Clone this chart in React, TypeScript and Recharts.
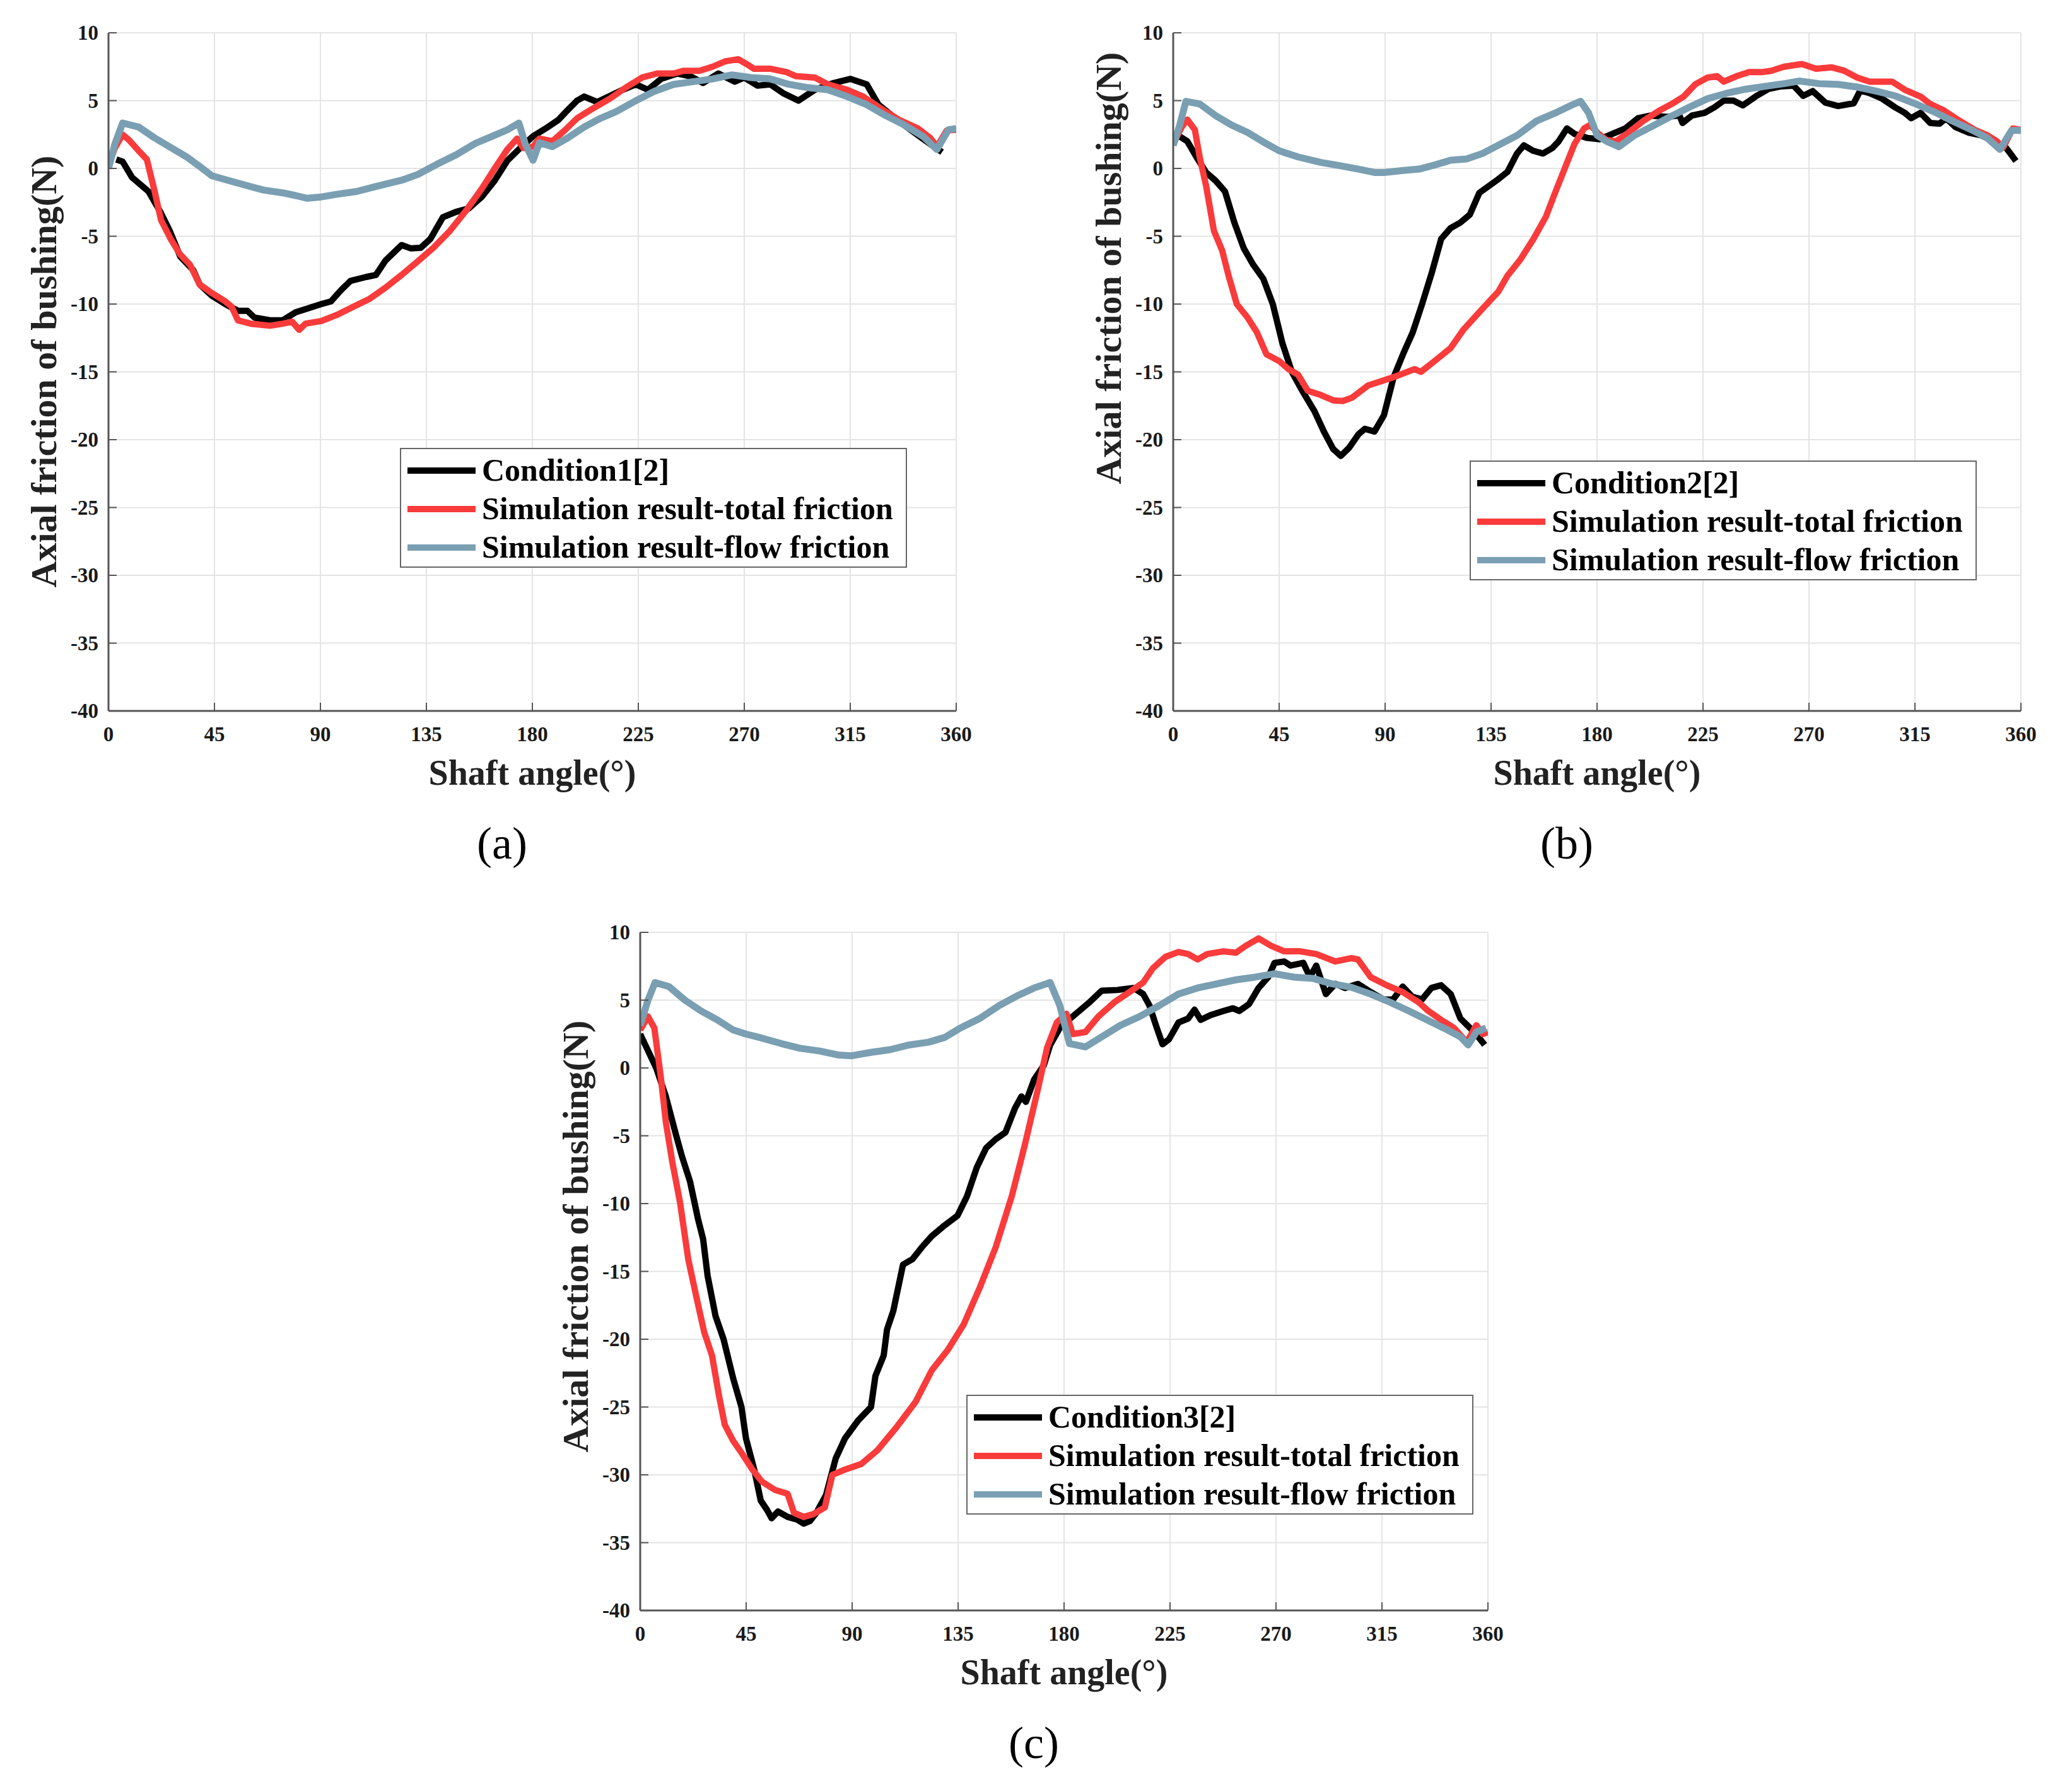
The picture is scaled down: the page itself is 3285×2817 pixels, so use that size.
import React from 'react';
import { LineChart, Line, XAxis, YAxis, CartesianGrid, Legend } from 'recharts';

// axis ticks shared by the three panels
const ANGLE_TICKS = [0, 45, 90, 135, 180, 225, 270, 315, 360];
const FORCE_TICKS = [-40, -35, -30, -25, -20, -15, -10, -5, 0, 5, 10];

// series names
const NAMES_A = ['Condition1[2]', 'Simulation result-total friction', 'Simulation result-flow friction'];
const NAMES_B = ['Condition2[2]', 'Simulation result-total friction', 'Simulation result-flow friction'];
const NAMES_C = ['Condition3[2]', 'Simulation result-total friction', 'Simulation result-flow friction'];

// (a) [shaft angle, axial friction]
const cond1 = [
  [3.3, 0.66], [6, 0.5], [10, -0.66], [17, -1.7], [22, -3.2], [26, -4.6], [30.5, -6.5], [36, -7.5],
  [38.7, -8.55], [44, -9.4], [49.6, -10], [55, -10.5], [59, -10.5], [62, -11], [68.6, -11.2], [74, -11.2],
  [79.5, -10.6], [85, -10.3], [90.4, -10], [94.5, -9.8], [98.6, -9], [102.7, -8.3], [109.5, -8],
  [113.6, -7.85], [117.6, -6.8], [124.5, -5.65], [128.5, -5.9], [132.6, -5.85], [136.7, -5.2], [142, -3.6],
  [147.6, -3.2], [153, -2.95], [158.5, -2.1], [164, -0.9], [169.4, 0.58], [174.8, 1.5], [180.3, 2.37],
  [185.7, 2.95], [191, 3.57], [195, 4.3], [199, 5], [202, 5.3], [207.5, 4.9], [213, 5.35], [218.4, 5.8],
  [224, 6.2], [229, 5.8], [234.7, 6.6], [241.6, 7], [247, 6.8], [252.5, 6.3], [259, 7], [266, 6.4],
  [270, 6.7], [275.6, 6.1], [281, 6.2], [286.5, 5.55], [293, 5], [300, 5.8], [308, 6.3], [315, 6.6],
  [322, 6.2], [327, 4.7], [335.5, 3.5], [343.7, 2.45], [349, 1.8], [354, 1.2],
];
const total1 = [
  [0, 0.2], [2.7, 1.5], [6, 2.5], [8.7, 2.1], [12.8, 1.3], [16.3, 0.66], [19.6, -1.7], [22.3, -3.8],
  [26.4, -5.2], [30.5, -6.35], [34.6, -7.1], [38.7, -8.55], [44, -9.2], [49.6, -9.8], [52.3, -10.2],
  [55, -11.2], [60.5, -11.45], [68.6, -11.6], [74, -11.45], [78, -11.3], [81, -11.9], [83.6, -11.45],
  [90.4, -11.25], [97, -10.8], [104, -10.2], [111, -9.6], [117.6, -8.8], [124.5, -7.85], [131, -6.9],
  [138, -5.85], [145, -4.6], [151.7, -3.15], [158.5, -1.5], [164, 0], [169.4, 1.4], [173.5, 2.2],
  [176.2, 1.5], [180.3, 1.6], [183, 2.2], [188.5, 2], [194, 2.85], [199, 3.7], [206, 4.45], [213, 5.15],
  [220, 6], [226.6, 6.7], [233, 7], [240, 7], [244.3, 7.2], [251, 7.2], [256.5, 7.5], [262, 7.9],
  [267.4, 8.05], [271.5, 7.65], [274, 7.35], [281, 7.35], [288, 7.1], [292, 6.8], [300, 6.7],
  [305.5, 6.2], [313.7, 5.8], [320.5, 5.3], [327.3, 4.5], [335.5, 3.6], [343.7, 2.95], [349, 2.25],
  [351.8, 1.6], [356, 2.8], [360, 2.85],
];
const flow1 = [
  [0, 0], [2.7, 1.8], [6, 3.35], [12.8, 3.05], [19.6, 2.25], [26.4, 1.55], [33.2, 0.85], [38.7, 0.15],
  [44, -0.55], [52.3, -0.95], [60.5, -1.35], [66, -1.6], [74, -1.8], [79.5, -2], [84.4, -2.2],
  [90.4, -2.1], [97.2, -1.9], [105.4, -1.7], [112, -1.4], [119, -1.1], [124.5, -0.87], [131.3, -0.45],
  [139.4, 0.3], [147.6, 1], [155.8, 1.85], [164, 2.45], [169.4, 2.85], [174.3, 3.35], [177, 1.8],
  [180.3, 0.6], [183, 1.9], [188.5, 1.6], [195, 2.25], [202, 3.05], [209, 3.7], [215.7, 4.2], [224, 5],
  [232, 5.7], [240, 6.2], [248.4, 6.4], [256.5, 6.6], [264.7, 6.9], [272.9, 6.7], [281, 6.6], [289, 6.2],
  [297.3, 5.95], [305.5, 5.8], [313.7, 5.3], [322, 4.7], [330, 3.9], [338, 3.2], [346, 2.35],
  [351.8, 1.4], [356.7, 2.85], [360, 2.95],
];

// (b)
const cond2 = [
  [2, 2.45], [6, 2], [10, 0.8], [14, -0.3], [18, -0.9], [22, -1.7], [26, -4], [30, -5.9], [34, -7.1],
  [38.3, -8.15], [42.3, -10], [46.4, -12.9], [50.4, -15], [54.5, -16.3], [60, -17.9], [64, -19.4],
  [68, -20.7], [71.2, -21.2], [74.7, -20.6], [78.7, -19.6], [81.4, -19.2], [85.5, -19.4], [89.5, -18.2],
  [93.6, -15.4], [97.6, -13.7], [101.7, -12.1], [105.7, -10], [109.8, -7.7], [113.8, -5.2], [117.8, -4.4],
  [121.9, -4], [126, -3.4], [130, -1.8], [134, -1.3], [138, -0.8], [142, -0.25], [146, 1.1], [148.9, 1.7],
  [152.9, 1.3], [157, 1.1], [161, 1.5], [163.7, 2], [167.2, 2.95], [170.4, 2.55], [175.8, 2.25],
  [181.2, 2.15], [186.6, 2.55], [192, 2.95], [197.4, 3.7], [202.8, 3.9], [209.5, 3.8], [215, 3.9],
  [216.3, 3.35], [220.3, 3.9], [225.7, 4.1], [229.8, 4.5], [233.8, 5], [237.9, 5], [241.9, 4.65],
  [247.3, 5.3], [252.7, 5.85], [258, 6.05], [263.5, 6.1], [267.5, 5.35], [271.6, 5.7], [277, 4.85],
  [282.4, 4.6], [289, 4.8], [291.8, 5.75], [295.8, 5.55], [301, 5.15], [306.6, 4.5], [310.7, 4.1],
  [313.4, 3.7], [317.4, 4.1], [321.5, 3.35], [325.5, 3.3], [328.2, 3.7], [332.2, 3.05], [337.6, 2.65],
  [343, 2.45], [348.4, 2], [353.8, 1.5], [357.9, 0.55],
];
const total2 = [
  [0, 1.8], [3.8, 3.1], [6, 3.6], [9.2, 2.85], [11.3, 0.8], [14, -1.3], [17.3, -4.6], [20.8, -6.05],
  [23.5, -7.9], [27, -10], [31.6, -11], [35.6, -12.1], [39.6, -13.7], [45, -14.2], [49, -14.8],
  [53, -15.2], [57.2, -16.4], [62.6, -16.7], [68, -17.1], [72, -17.15], [76, -16.9], [82.8, -16],
  [88.2, -15.7], [95, -15.3], [102.5, -14.8], [105.2, -15], [111, -14.2], [117.8, -13.25], [123.2, -11.9],
  [130, -10.6], [138, -9.1], [142, -7.9], [147.5, -6.7], [153, -5.2], [158.3, -3.55], [162.4, -1.7],
  [167.2, 0.4], [170.4, 1.8], [174.5, 2.95], [177, 3.2], [180.7, 2.55], [184, 2.1], [188, 2],
  [193.4, 2.65], [200, 3.55], [206.8, 4.3], [212.2, 4.8], [216.8, 5.3], [221.7, 6.2], [227, 6.7],
  [231, 6.8], [233.8, 6.4], [239.2, 6.8], [244.6, 7.1], [250, 7.1], [254, 7.2], [259.4, 7.5], [267, 7.7],
  [273, 7.35], [279.7, 7.45], [285, 7.2], [290.5, 6.7], [295.8, 6.4], [305.3, 6.4], [310.7, 5.8],
  [317.4, 5.3], [321.5, 4.75], [327, 4.3], [333.6, 3.55], [340.4, 2.85], [345.7, 2.45], [349.8, 2],
  [352.5, 1.55], [356.6, 2.95], [360, 2.85],
];
const flow2 = [
  [0, 1.7], [2.7, 3.15], [5.4, 4.95], [11.3, 4.75], [18, 3.9], [24.8, 3.2], [31.6, 2.65], [38.3, 1.95],
  [45, 1.3], [53, 0.85], [62.6, 0.45], [70.7, 0.2], [78.7, -0.05], [85.5, -0.3], [89.5, -0.3],
  [97.6, -0.15], [104.4, -0.05], [111, 0.25], [117.8, 0.6], [124.6, 0.7], [131.3, 1.1], [138, 1.7],
  [146.2, 2.45], [154.3, 3.5], [162.4, 4.1], [169, 4.65], [173, 4.95], [176.4, 4.1], [180, 2.45],
  [184, 2], [189.3, 1.6], [196, 2.45], [202.8, 3.05], [210.9, 3.8], [219, 4.5], [227, 5.15], [235.2, 5.55],
  [243.3, 5.85], [251.3, 6.05], [259.4, 6.25], [266, 6.45], [274.3, 6.25], [282.4, 6.2], [290.5, 6],
  [298.5, 5.7], [306.6, 5.35], [314.7, 4.8], [322.8, 4.2], [330.9, 3.5], [339, 2.85], [345.7, 2.25],
  [351.1, 1.4], [356, 2.8], [360, 2.8],
];

// (c)
const cond3 = [
  [0, 2.5], [2.7, 1.5], [6.8, 0], [10.9, -2.1], [15, -4.8], [17.7, -6.5], [21.2, -8.4], [24.5, -11.1],
  [26.7, -12.6], [28.6, -15.3], [32, -18.3], [35.4, -20], [39.5, -22.9], [43, -25], [44.9, -27.3],
  [48.4, -29.6], [51.2, -31.9], [53.9, -32.6], [55.8, -33.2], [58.5, -32.7], [62.6, -33.1], [66.7, -33.3],
  [69.4, -33.6], [72.1, -33.4], [74.8, -32.8], [78.9, -31.5], [83, -28.8], [87, -27.3], [92.5, -26],
  [98, -25], [99.9, -22.7], [103.4, -21.2], [104.8, -19.3], [107.5, -17.9], [111.6, -14.5], [115.6, -14.1],
  [119.7, -13.2], [123.8, -12.4], [129.3, -11.6], [134.7, -10.9], [138.8, -9.45], [142.9, -7.35],
  [146.9, -5.9], [151, -5.25], [155.1, -4.75], [159.2, -2.95], [161.9, -2.1], [163.8, -2.5], [167.3, -0.85],
  [171.4, 0.2], [174.1, 1.7], [178.2, 2.95], [182.3, 3.6], [186.4, 4.2], [190.5, 4.8], [196, 5.7],
  [202.7, 5.75], [209.5, 5.9], [213.6, 5.45], [216.3, 4.6], [219, 3.15], [221.8, 1.75], [224.5, 2.1],
  [228.6, 3.35], [232.7, 3.65], [235.4, 4.3], [238, 3.55], [242.2, 3.9], [247.6, 4.2], [251.7, 4.4],
  [254.4, 4.2], [258.5, 4.7], [262.6, 5.9], [266.7, 6.7], [269.4, 7.75], [273.5, 7.85], [276.2, 7.55],
  [281.6, 7.75], [284.4, 6.7], [287.1, 7.55], [291.2, 5.45], [295.2, 6.2], [299.3, 5.9], [304.8, 6.2],
  [310.2, 5.6], [315.6, 5.05], [319.7, 5.05], [323.8, 6], [327.9, 5.25], [332, 5.05], [336, 5.9],
  [340.1, 6.1], [344.2, 5.45], [348.3, 3.65], [352.4, 2.95], [355.9, 2.3], [358.6, 1.7],
];
const total3 = [
  [0, 2.8], [3.3, 3.8], [6, 2.95], [8.7, -0.6], [10.9, -4], [13.6, -6.9], [16.9, -9.9], [20.4, -14.1],
  [24, -17], [27.2, -19.5], [30.5, -21.2], [33.5, -24.2], [35.9, -26.3], [39.5, -27.5], [43.5, -28.5],
  [47.6, -29.6], [51.7, -30.5], [57.1, -31.1], [62.6, -31.4], [65.3, -32.8], [69.4, -33.1], [73.5, -32.9],
  [78.4, -32.4], [81.6, -30], [87.1, -29.6], [93.9, -29.2], [100.7, -28.2], [108.8, -26.5], [117, -24.6],
  [123.8, -22.3], [130.6, -20.8], [137.4, -18.9], [144.2, -16.2], [151, -13.2], [157.8, -9.45],
  [163.3, -5.7], [168.7, -1.7], [172.8, 1.5], [176.9, 3.35], [181, 4], [183.7, 2.5], [189.1, 2.65],
  [194.6, 3.8], [201.4, 4.85], [208.2, 5.65], [213.6, 6.3], [217.7, 7.35], [223.1, 8.2], [228.6, 8.55],
  [232.7, 8.4], [236.7, 8], [240.8, 8.4], [247.6, 8.6], [253, 8.5], [257.1, 9], [262.6, 9.55], [268, 9],
  [273.5, 8.6], [280.3, 8.6], [287.1, 8.4], [295.2, 7.85], [302, 8.1], [304.8, 8], [310.2, 6.7],
  [317, 6.1], [323.8, 5.6], [330.6, 4.85], [334.7, 4.2], [340.1, 3.55], [345.6, 2.95], [351, 1.9],
  [355.1, 3.15], [357.8, 2.5], [360, 2.65],
];
const flow3 = [
  [0, 3.15], [3.3, 5], [6.3, 6.3], [12.2, 6], [19, 5], [25.9, 4.2], [32.7, 3.55], [39.5, 2.8], [44.9, 2.5],
  [51.7, 2.2], [59.9, 1.8], [68, 1.45], [76.2, 1.25], [84.4, 0.95], [89.8, 0.9], [98, 1.15], [106.1, 1.35],
  [114.3, 1.7], [122.4, 1.9], [129.3, 2.25], [136, 2.95], [144.2, 3.65], [152.4, 4.6], [160.5, 5.35],
  [167.3, 5.9], [174.1, 6.3], [178.2, 4.6], [182.3, 1.8], [189.1, 1.55], [196, 2.3], [204, 3.15],
  [212.2, 3.8], [220.4, 4.6], [228.6, 5.45], [236.7, 5.9], [244.9, 6.2], [253, 6.5], [261.2, 6.7],
  [269.4, 6.95], [277.6, 6.7], [285.7, 6.6], [293.9, 6.2], [302, 5.95], [310.2, 5.45], [318.4, 4.85],
  [326.5, 4.2], [334.7, 3.5], [342.9, 2.8], [348.3, 2.3], [351.6, 1.7], [355.1, 2.65], [359.2, 2.95],
];

const COLORS = ['#000000', '#F93B3B', '#7A9FB2'];
const AXIS_COLOR = '#555555';
const FONT = '"Liberation Serif", "Times New Roman", serif';

const PLOT_W = 1344;
const PLOT_H = 1075;
const CHART_W = 1600;
const CHART_H = 1380;
const OFF_X = 172; // plot left inside the chart box
const OFF_Y = 52; // plot top inside the chart box
const Y_AXIS_W = 100;
const X_AXIS_H = 60;

const toPoints = (pairs: number[][]) => pairs.map(([x, y]) => ({ x, y }));

const tickText = { fontFamily: FONT, fontWeight: 700, fontSize: 33, fill: '#1a1a1a' };

const BottomTick = (props: any) => {
  const { x, y, payload } = props;
  return (
    <g>
      <line x1={x} y1={y} x2={x} y2={y - 13} stroke={AXIS_COLOR} strokeWidth={2} />
      <text x={x} y={y + 48} textAnchor="middle" style={tickText}>{payload.value}</text>
    </g>
  );
};

const TopTick = (props: any) => {
  const { x, y } = props;
  return <line x1={x} y1={y} x2={x} y2={y + 13} stroke={AXIS_COLOR} strokeWidth={2} />;
};

const LeftTick = (props: any) => {
  const { x, y, payload } = props;
  return (
    <g>
      <line x1={x} y1={y} x2={x + 13} y2={y} stroke={AXIS_COLOR} strokeWidth={2} />
      <text x={x - 16} y={y + 11} textAnchor="end" style={tickText}>{payload.value}</text>
    </g>
  );
};

const RightTick = (props: any) => {
  const { x, y } = props;
  return <line x1={x} y1={y} x2={x - 13} y2={y} stroke={AXIS_COLOR} strokeWidth={2} />;
};

// legend rows keep the order of the names list
const makeLegend = (names: string[]) => (props: any) => {
  const items = [...(props.payload || [])].sort(
    (p: any, q: any) => names.indexOf(p.value) - names.indexOf(q.value)
  );
  return (
    <div
      style={{
        width: 804,
        height: 190,
        boxSizing: 'border-box',
        border: '2px solid #666',
        background: '#fff',
        paddingTop: 3,
      }}
    >
      {items.map((item: any) => (
        <div key={item.value} style={{ display: 'flex', alignItems: 'center', height: 61 }}>
          <div style={{ width: 108, height: 10, background: item.color, marginLeft: 10, marginRight: 10 }} />
          <span style={{ fontFamily: FONT, fontWeight: 700, fontSize: 50, whiteSpace: 'nowrap', lineHeight: '61px', color: '#000' }}>
            {item.value}
          </span>
        </div>
      ))}
    </div>
  );
};

interface PanelProps {
  plotLeft: number;
  plotTop: number;
  series: number[][][];
  names: string[];
  legendAt: [number, number];
  yTitleCenter: number;
  caption: string;
}

const Panel: React.FC<PanelProps> = ({ plotLeft, plotTop, series, names, legendAt, yTitleCenter, caption }) => {
  const left = plotLeft - OFF_X;
  const top = plotTop - OFF_Y;
  return (
    <>
      <div style={{ position: 'absolute', left, top, width: CHART_W, height: CHART_H }}>
        <LineChart
          width={CHART_W}
          height={CHART_H}
          margin={{
            top: OFF_Y,
            left: OFF_X - Y_AXIS_W,
            right: CHART_W - OFF_X - PLOT_W,
            bottom: CHART_H - OFF_Y - PLOT_H - X_AXIS_H,
          }}
        >
          <CartesianGrid stroke="#e4e4e4" strokeWidth={2} />
          <XAxis
            dataKey="x"
            type="number"
            domain={[0, 360]}
            ticks={ANGLE_TICKS}
            interval={0}
            height={X_AXIS_H}
            tickSize={0}
            tickMargin={0}
            tickLine={false}
            tick={BottomTick}
            axisLine={{ stroke: AXIS_COLOR, strokeWidth: 3 }}
            allowDataOverflow
          />
          <XAxis
            xAxisId="top"
            orientation="top"
            dataKey="x"
            type="number"
            domain={[0, 360]}
            ticks={ANGLE_TICKS}
            interval={0}
            height={0}
            tickSize={0}
            tickMargin={0}
            tickLine={false}
            tick={TopTick}
            axisLine={{ stroke: AXIS_COLOR, strokeWidth: 3 }}
            allowDataOverflow
          />
          <YAxis
            type="number"
            domain={[-40, 10]}
            ticks={FORCE_TICKS}
            interval={0}
            width={Y_AXIS_W}
            tickSize={0}
            tickMargin={0}
            tickLine={false}
            tick={LeftTick}
            axisLine={{ stroke: AXIS_COLOR, strokeWidth: 3 }}
            allowDataOverflow
          />
          <YAxis
            yAxisId="right"
            orientation="right"
            type="number"
            domain={[-40, 10]}
            ticks={FORCE_TICKS}
            interval={0}
            width={0}
            tickSize={0}
            tickMargin={0}
            tickLine={false}
            tick={RightTick}
            axisLine={{ stroke: AXIS_COLOR, strokeWidth: 3 }}
            allowDataOverflow
          />
          {series.map((pairs, i) => (
            <Line
              key={names[i]}
              data={toPoints(pairs)}
              dataKey="y"
              name={names[i]}
              type="linear"
              stroke={COLORS[i]}
              strokeWidth={i === 2 ? 11 : 10}
              strokeLinejoin="round"
              dot={false}
              activeDot={false}
              isAnimationActive={false}
            />
          ))}
          <Legend
            layout="vertical"
            align="center"
            verticalAlign="middle"
            content={makeLegend(names)}
            wrapperStyle={{ left: OFF_X + legendAt[0], top: OFF_Y + legendAt[1], width: 804, height: 190 }}
          />
        </LineChart>
      </div>
      {/* y-axis title */}
      <div
        style={{
          position: 'absolute',
          left: plotLeft - 102 - 600,
          top: plotTop + yTitleCenter - 40,
          width: 1200,
          height: 80,
          lineHeight: '80px',
          textAlign: 'center',
          transform: 'rotate(-90deg)',
          fontFamily: FONT,
          fontWeight: 700,
          fontSize: 58,
          color: '#222',
          whiteSpace: 'nowrap',
        }}
      >
        Axial friction of bushing(N)
      </div>
      {/* x-axis title */}
      <div
        style={{
          position: 'absolute',
          left: plotLeft + PLOT_W / 2 - 400,
          top: plotTop + PLOT_H + 98 - 40,
          width: 800,
          height: 80,
          lineHeight: '80px',
          textAlign: 'center',
          fontFamily: FONT,
          fontWeight: 700,
          fontSize: 56,
          color: '#222',
        }}
      >
        Shaft angle(°)
      </div>
      {/* caption */}
      <div
        style={{
          position: 'absolute',
          left: plotLeft + PLOT_W / 2 - 48 - 200,
          top: plotTop + PLOT_H + 210 - 50,
          width: 400,
          height: 100,
          lineHeight: '100px',
          textAlign: 'center',
          fontFamily: FONT,
          fontSize: 72,
          color: '#000',
        }}
      >
        {caption}
      </div>
    </>
  );
};

export default function App() {
  return (
    <div style={{ position: 'absolute', left: 0, top: 0, width: 3285, height: 2817, background: '#fff', overflow: 'hidden' }}>
      <Panel
        plotLeft={172}
        plotTop={52}
        series={[cond1, total1, flow1]}
        names={NAMES_A}
        legendAt={[462, 658]}
        yTitleCenter={537}
        caption="(a)"
      />
      <Panel
        plotLeft={1860}
        plotTop={52}
        series={[cond2, total2, flow2]}
        names={NAMES_B}
        legendAt={[470, 678]}
        yTitleCenter={373}
        caption="(b)"
      />
      <Panel
        plotLeft={1015}
        plotTop={1478}
        series={[cond3, total3, flow3]}
        names={NAMES_C}
        legendAt={[517, 733]}
        yTitleCenter={482}
        caption="(c)"
      />
    </div>
  );
}
